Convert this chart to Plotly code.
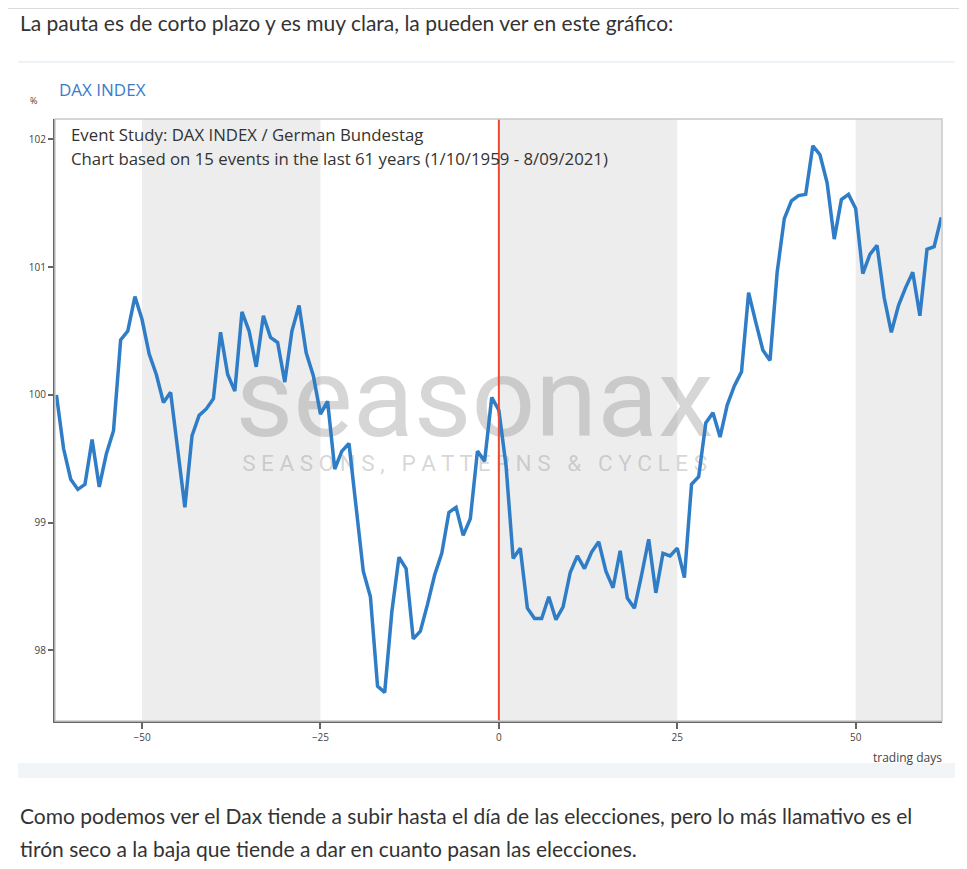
import plotly.graph_objects as go

# trading days relative to the event (election day = 0)
days = list(range(-62, 63))

# average DAX path in % (event day normalised around 100)
dax_pct = [
    100.00, 99.58, 99.34, 99.26, 99.30, 99.65, 99.28, 99.54, 99.72, 100.43,
    100.50, 100.77, 100.59, 100.32, 100.16, 99.94, 100.02, 99.58, 99.12, 99.68,
    99.84, 99.89, 99.97, 100.49, 100.16, 100.03, 100.65, 100.50, 100.22, 100.62,
    100.45, 100.41, 100.10, 100.50, 100.70, 100.33, 100.15, 99.85, 99.95, 99.42,
    99.56, 99.62, 99.12, 98.62, 98.42, 97.72, 97.67, 98.30, 98.73, 98.64,
    98.09, 98.15, 98.36, 98.59, 98.76, 99.08, 99.12, 98.90, 99.03, 99.56,
    99.48, 99.98, 99.88, 99.45, 98.72, 98.80, 98.33, 98.25, 98.25, 98.42,
    98.24, 98.34, 98.61, 98.74, 98.64, 98.77, 98.85, 98.62, 98.49, 98.78,
    98.41, 98.33, 98.59, 98.87, 98.45, 98.76, 98.74, 98.80, 98.57, 99.30,
    99.36, 99.78, 99.86, 99.67, 99.92, 100.07, 100.18, 100.80, 100.57, 100.35,
    100.27, 100.96, 101.38, 101.52, 101.56, 101.57, 101.95, 101.88, 101.66, 101.22,
    101.53, 101.57, 101.46, 100.95, 101.10, 101.17, 100.76, 100.49, 100.70, 100.84,
    100.96, 100.62, 101.14, 101.16, 101.39,
]

# shaded day ranges
bands = [(-50, -25), (0, 25), (50, 62.1)]

x_ticks = [-50, -25, 0, 25, 50]
y_ticks = [98, 99, 100, 101, 102]

intro_text = "La pauta es de corto plazo y es muy clara, la pueden ver en este gráfico:"
outro_lines = [
    "Como podemos ver el Dax tiende a subir hasta el día de las elecciones, pero lo más llamativo es el",
    "tirón seco a la baja que tiende a dar en cuanto pasan las elecciones.",
]

# the page body has an 8px margin, so the figure starts at (8, 8) of the window
OFF = 8
W, H = 967 - OFF, 869 - OFF
L, R, T, B = 47, 25, 111, 148


def px_x(px):
    # window pixel -> paper coordinate
    return (px - OFF - L) / (W - L - R)


def px_y(py):
    return (H - B - (py - OFF)) / (H - T - B)


PAGE_FONT = "Lato"
CHART_FONT = "Open Sans"
WM_COLOR = "rgba(140,140,140,0.36)"

fig = go.Figure()

# watermark, drawn first so the line sits on top
fig.add_trace(go.Scatter(
    x=[-3.4], y=[99.90], mode="text", text=["seasonax"],
    textfont=dict(family="Roboto", size=112, color=WM_COLOR),
    hoverinfo="skip", showlegend=False,
))
fig.add_trace(go.Scatter(
    x=[-3.4], y=[99.45], mode="text",
    text=["S E A S O N S ,   P A T T E R N S   &   C Y C L E S"],
    textfont=dict(family="Roboto", size=22.5, color=WM_COLOR),
    hoverinfo="skip", showlegend=False,
))

fig.add_trace(go.Scatter(
    x=days, y=dax_pct, mode="lines",
    line=dict(color="#2f7dc6", width=3.5),
    name="DAX INDEX", showlegend=False,
))

shapes = []
for x0, x1 in bands:
    shapes.append(dict(type="rect", xref="x", yref="paper", x0=x0, x1=x1, y0=0, y1=1,
                       fillcolor="#ededed", line_width=0, layer="below"))
shapes.append(dict(type="line", xref="x", yref="paper", x0=0, x1=0, y0=0, y1=1,
                   line=dict(color="#f0472f", width=2)))
# plot frame (top/right light grey)
shapes.append(dict(type="rect", xref="paper", yref="paper", x0=0, x1=1, y0=0, y1=1,
                   line=dict(color="#c9c9c9", width=1.5)))
# page decoration
shapes.append(dict(type="line", xref="paper", yref="paper",
                   x0=px_x(OFF), x1=px_x(967), y0=px_y(8.5), y1=px_y(8.5),
                   line=dict(color="#dcdcdc", width=1)))
shapes.append(dict(type="line", xref="paper", yref="paper",
                   x0=px_x(18), x1=px_x(955), y0=px_y(62), y1=px_y(62),
                   line=dict(color="#eef3f8", width=2)))
shapes.append(dict(type="rect", xref="paper", yref="paper",
                   x0=px_x(18), x1=px_x(955), y0=px_y(763), y1=px_y(778),
                   fillcolor="#f2f5f8", line_width=0))

annotations = [
    dict(text=intro_text, x=px_x(18), y=px_y(22), xanchor="left", yanchor="middle",
         font=dict(family=PAGE_FONT, size=21, color="#333333")),
    dict(text="DAX INDEX", x=px_x(57), y=px_y(89), xanchor="left", yanchor="middle",
         font=dict(family=CHART_FONT, size=17, color="#3a7bcc")),
    dict(text="%", x=px_x(33), y=px_y(100), xanchor="center", yanchor="middle",
         font=dict(family=CHART_FONT, size=9, color="#444444")),
    dict(text="Event Study: DAX INDEX / German Bundestag", x=px_x(69), y=px_y(134),
         xanchor="left", yanchor="middle",
         font=dict(family=CHART_FONT, size=16.8, color="#333333")),
    dict(text="Chart based on 15 events in the last 61 years (1/10/1959 - 8/09/2021)",
         x=px_x(69), y=px_y(158), xanchor="left", yanchor="middle",
         font=dict(family=CHART_FONT, size=16.8, color="#333333")),
    dict(text="trading days", x=px_x(944), y=px_y(757), xanchor="right", yanchor="middle",
         font=dict(family=CHART_FONT, size=12, color="#444444")),
]
for i, line in enumerate(outro_lines):
    annotations.append(dict(text=line, x=px_x(18), y=px_y(815 + 33 * i),
                            xanchor="left", yanchor="middle",
                            font=dict(family=PAGE_FONT, size=21, color="#333333")))
for a in annotations:
    a.update(xref="paper", yref="paper", showarrow=False)

fig.update_layout(
    width=W, height=H,
    margin=dict(l=L, r=R, t=T, b=B, pad=0),
    paper_bgcolor="white",
    plot_bgcolor="white",
    shapes=shapes,
    annotations=annotations,
    xaxis=dict(range=[-62.2, 62.1], tickvals=x_ticks, showgrid=False, zeroline=False,
               showline=True, linecolor="#666666", linewidth=2,
               ticks="outside", ticklen=6, tickcolor="#666666", tickwidth=1.5,
               tickfont=dict(family=CHART_FONT, size=10, color="#444444")),
    yaxis=dict(range=[97.447, 102.16], tickvals=y_ticks, showgrid=False, zeroline=False,
               showline=True, linecolor="#666666", linewidth=2,
               ticks="outside", ticklen=5, tickcolor="#666666", tickwidth=1.5,
               tickfont=dict(family=CHART_FONT, size=10, color="#444444")),
    showlegend=False,
)

fig.write_html("out.html")
